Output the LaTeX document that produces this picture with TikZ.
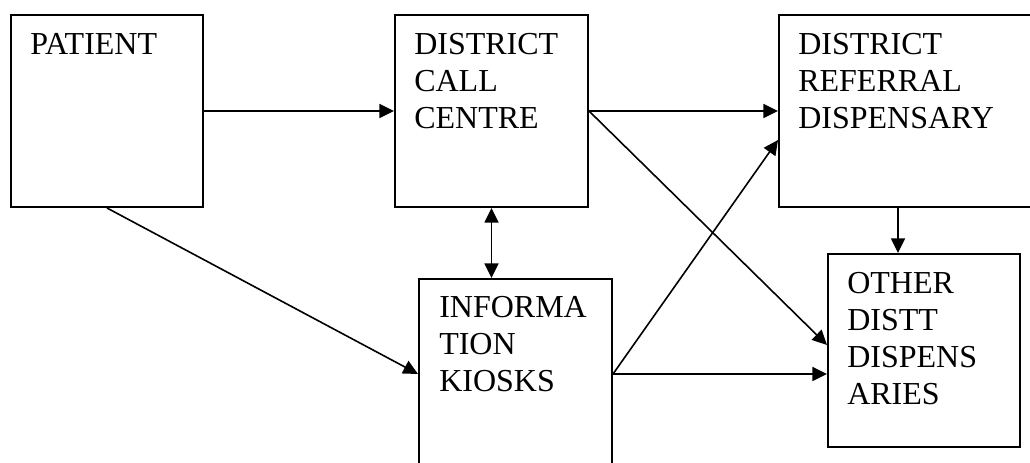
\documentclass[tikz,border=0pt]{standalone}
\usepackage{fontspec}
\setmainfont{Liberation Serif}
\usetikzlibrary{arrows.meta,calc}

\begin{document}
\begin{tikzpicture}[
  x=0.75pt, y=-0.75pt,
  box/.style={draw, line width=1.5pt, anchor=north west, inner sep=0pt},
  txt/.style={anchor=north west, inner sep=0pt, align=left, font=\fontsize{24}{27.75}\selectfont},
  arrow/.style={-{Triangle[length=11pt, width=10.5pt]}, line width=1.2pt},
  twoway/.style={{Triangle[length=11pt, width=10.5pt]}-{Triangle[length=11pt, width=10.5pt]}, line width=1.2pt}
]
\useasboundingbox (0,0) rectangle (1030,463);
\clip (0,0) rectangle (1030,463);

\node[box, minimum width=144pt, minimum height=144pt] (pat) at (10,14) {};
\node[box, minimum width=144.75pt, minimum height=144pt] (call) at (394,14) {};
\node[box, minimum width=202.5pt, minimum height=144pt] (ref) at (778,14) {};
\node[box, minimum width=144.75pt, minimum height=142.5pt] (kiosk) at (418,278) {};
\node[box, minimum width=144pt, minimum height=144.75pt] (other) at (827,253) {};

\node[txt] (patText) at ($(pat.north west)+(20,19)$) {PATIENT};
\node[txt] (callText) at ($(call.north west)+(20,19)$) {DISTRICT\\CALL\\CENTRE};
\node[txt] (refText) at ($(ref.north west)+(20,19)$) {DISTRICT\\REFERRAL\\DISPENSARY};
\node[txt] (kioskText) at ($(kiosk.north west)+(21,18)$) {INFORMA\\TION\\KIOSKS};
\node[txt] (otherText) at ($(other.north west)+(20,19)$) {OTHER\\DISTT\\DISPENS\\ARIES};

\draw[arrow] (pat.east) -- (call.west);
\draw[arrow] (call.east) -- (ref.west);
\draw[arrow] (call.east) -- ($(other.north west)+(0,92)$);
\draw[twoway] (call.south) -- (call.south |- kiosk.north);
\draw[arrow] (pat.south) -- (kiosk.west);
\draw[arrow] (kiosk.east) -- ($(ref.north west)+(0,126)$);
\draw[arrow] (kiosk.east) -- (kiosk.east -| other.west);
\draw[arrow] ($(ref.south west)+(120,0)$) coordinate (refdown) -- (refdown |- other.north);
\end{tikzpicture}
\end{document}
